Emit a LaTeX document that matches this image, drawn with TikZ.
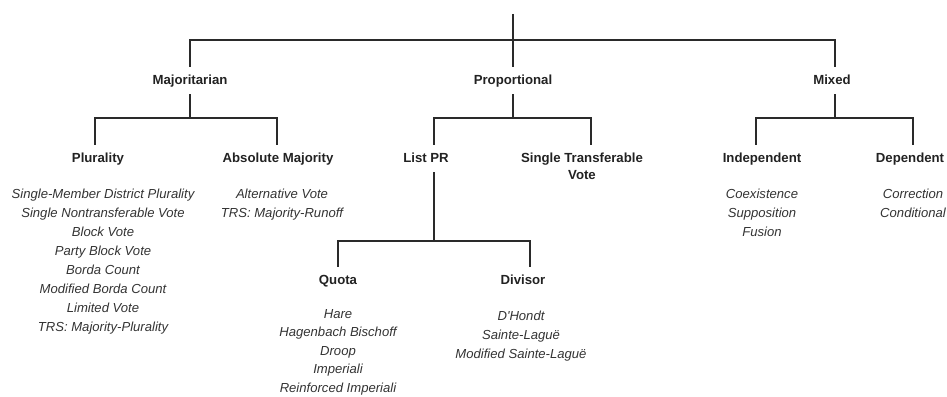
\documentclass[tikz,border=0pt]{standalone}
\usepackage{fontspec}
\setmainfont{Liberation Sans}
\definecolor{ink}{HTML}{222222}
\definecolor{itemc}{HTML}{333333}
\definecolor{linec}{HTML}{2A2A2A}
\newcommand{\stackc}[1]{\begin{tabular}[t]{@{}c@{}}#1\end{tabular}}
\begin{document}
\begin{tikzpicture}[x=1pt,y=-1pt,
  lab/.style={font=\bfseries\fontsize{13.2}{17}\selectfont, text=ink, text height=10pt, text depth=3pt, inner xsep=0pt, inner ysep=7pt, anchor=base},
  itemlist/.style={font=\itshape\fontsize{13.1}{19}\selectfont, text=itemc, inner sep=0pt, anchor=base},
  conn/.style={draw=linec, line width=1.7pt}]
\useasboundingbox (0,0) rectangle (947,396);
% level 1
\coordinate (top) at (513,14);
\coordinate (bar1) at (513,40);
\node[lab] (maj) at (190,84) {Majoritarian};
\node[lab] (prop) at (513,84) {Proportional};
\node[lab] (mix) at (832,84) {Mixed};
% level 2
\node[lab] (plur) at (98,162) {Plurality};
\node[lab] (absm) at (278,162) {Absolute Majority};
\node[lab] (listpr) at (426,162) {List PR};
\node[lab] (stv) at (582,162) {\stackc{Single Transferable\\Vote}};
\node[lab] (indep) at (762,162) {Independent};
\node[lab] (dep) at (910,162) {Dependent};
% level 3
\node[lab] (quota) at (338,284) {Quota};
\node[lab] (divisor) at (523,284) {Divisor};
% item lists
\node[itemlist] (plurItems) at (103,198) {\stackc{Single-Member District Plurality\\Single Nontransferable Vote\\Block Vote\\Party Block Vote\\Borda Count\\Modified Borda Count\\Limited Vote\\TRS: Majority-Plurality}};
\node[itemlist] (absItems) at (282,198) {\stackc{Alternative Vote\\TRS: Majority-Runoff}};
\node[itemlist, font=\itshape\fontsize{13.1}{18.6}\selectfont] (quotaItems) at (338,318) {\stackc{Hare\\Hagenbach Bischoff\\Droop\\Imperiali\\Reinforced Imperiali}};
\node[itemlist] (divItems) at (521,320) {\stackc{D\textquotesingle Hondt\\Sainte-Laguë\\Modified Sainte-Laguë}};
\node[itemlist] (indItems) at (762,198) {\stackc{Coexistence\\Supposition\\Fusion}};
\node[itemlist] (depItems) at (913,198) {\stackc{Correction\\Conditional}};
% joints
\coordinate (majbar) at (190,118);
\coordinate (propbar) at (513,118);
\coordinate (mixbar) at (835,118);
\coordinate (listbar) at (434,241);
% connectors
\draw[conn] (top) -- (prop.north);
\draw[conn] (maj.north) |- (bar1) -| ([xshift=3pt]mix.north);
\draw[conn] (maj.south) -- (majbar);
\draw[conn] ([xshift=-3pt]plur.north) |- (majbar) -| ([xshift=-1pt]absm.north);
\draw[conn] (prop.south) -- (propbar);
\draw[conn] ([xshift=8pt]listpr.north) |- (propbar) -| ([xshift=9pt]stv.north);
\draw[conn] ([xshift=3pt]mix.south) -- (mixbar);
\draw[conn] ([xshift=-6pt]indep.north) |- (mixbar) -| ([xshift=3pt]dep.north);
\draw[conn] ([xshift=8pt]listpr.south) -- (listbar);
\draw[conn] (quota.north) |- (listbar) -| ([xshift=7pt]divisor.north);
\end{tikzpicture}
\end{document}
